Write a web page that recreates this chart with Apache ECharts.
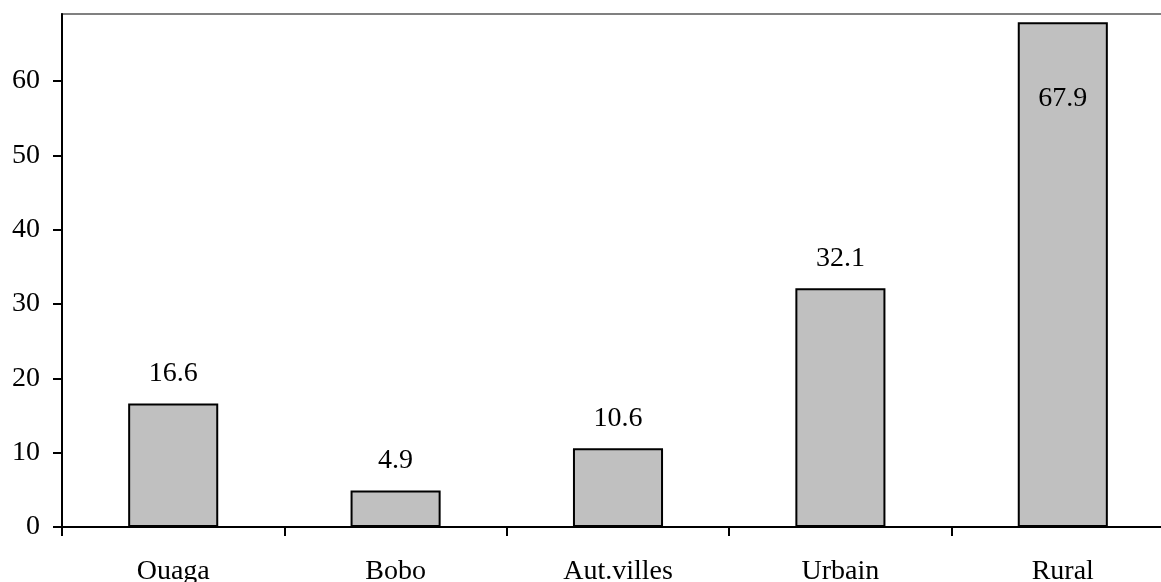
<!DOCTYPE html>
<html>
<head>
<meta charset="utf-8">
<script src="https://cdn.jsdelivr.net/npm/echarts@6/dist/echarts.min.js"></script>
<style>
html,body{margin:0;padding:0;background:#fff;overflow:hidden;}
#chart{width:1161px;height:582px;}
</style>
</head>
<body>
<div id="chart"></div>
<script>
const categories = ['Ouaga', 'Bobo', 'Aut.villes', 'Urbain', 'Rural'];
const values = [16.6, 4.9, 10.6, 32.1, 67.9];
const yTicks = [0, 10, 20, 30, 40, 50, 60];

const FONT = "'Liberation Serif', 'Times New Roman', serif";
const chart = echarts.init(document.getElementById('chart'), null, {renderer: 'canvas'});

const barData = values.map((v, i) => {
  const item = {value: v};
  if (i === values.length - 1) {
    item.label = {position: 'insideTop', distance: 62};
  }
  return item;
});

chart.setOption({
  animation: false,
  backgroundColor: '#ffffff',
  grid: {
    left: 62, width: 1112, top: 14, bottom: 55,
    outerBoundsMode: 'none',
    containLabel: false,
    show: true, borderColor: '#808080', borderWidth: 2, backgroundColor: 'transparent'
  },
  xAxis: {
    type: 'category',
    data: categories,
    boundaryGap: true,
    axisLine: {lineStyle: {color: '#000', width: 2}},
    axisTick: {show: true, length: 9, inside: false, lineStyle: {color: '#000', width: 2}},
    axisLabel: {color: '#000', fontFamily: FONT, fontSize: 28, margin: 31, interval: 0},
    splitLine: {show: false}
  },
  yAxis: {
    type: 'value',
    min: 0,
    max: 69,
    interval: 10,
    axisLine: {show: true, lineStyle: {color: '#000', width: 2}},
    axisTick: {show: true, length: 9, inside: false, lineStyle: {color: '#000', width: 2}, customValues: yTicks},
    axisLabel: {color: '#000', fontFamily: FONT, fontSize: 28, margin: 22, customValues: yTicks},
    splitLine: {show: false}
  },
  series: [{
    type: 'bar',
    data: barData,
    barWidth: '40.5%',
    itemStyle: {color: '#C0C0C0', borderColor: '#000', borderWidth: 2},
    label: {
      show: true,
      position: 'top',
      distance: 16,
      color: '#000',
      fontFamily: FONT,
      fontSize: 28
    }
  }]
});
</script>
</body>
</html>
